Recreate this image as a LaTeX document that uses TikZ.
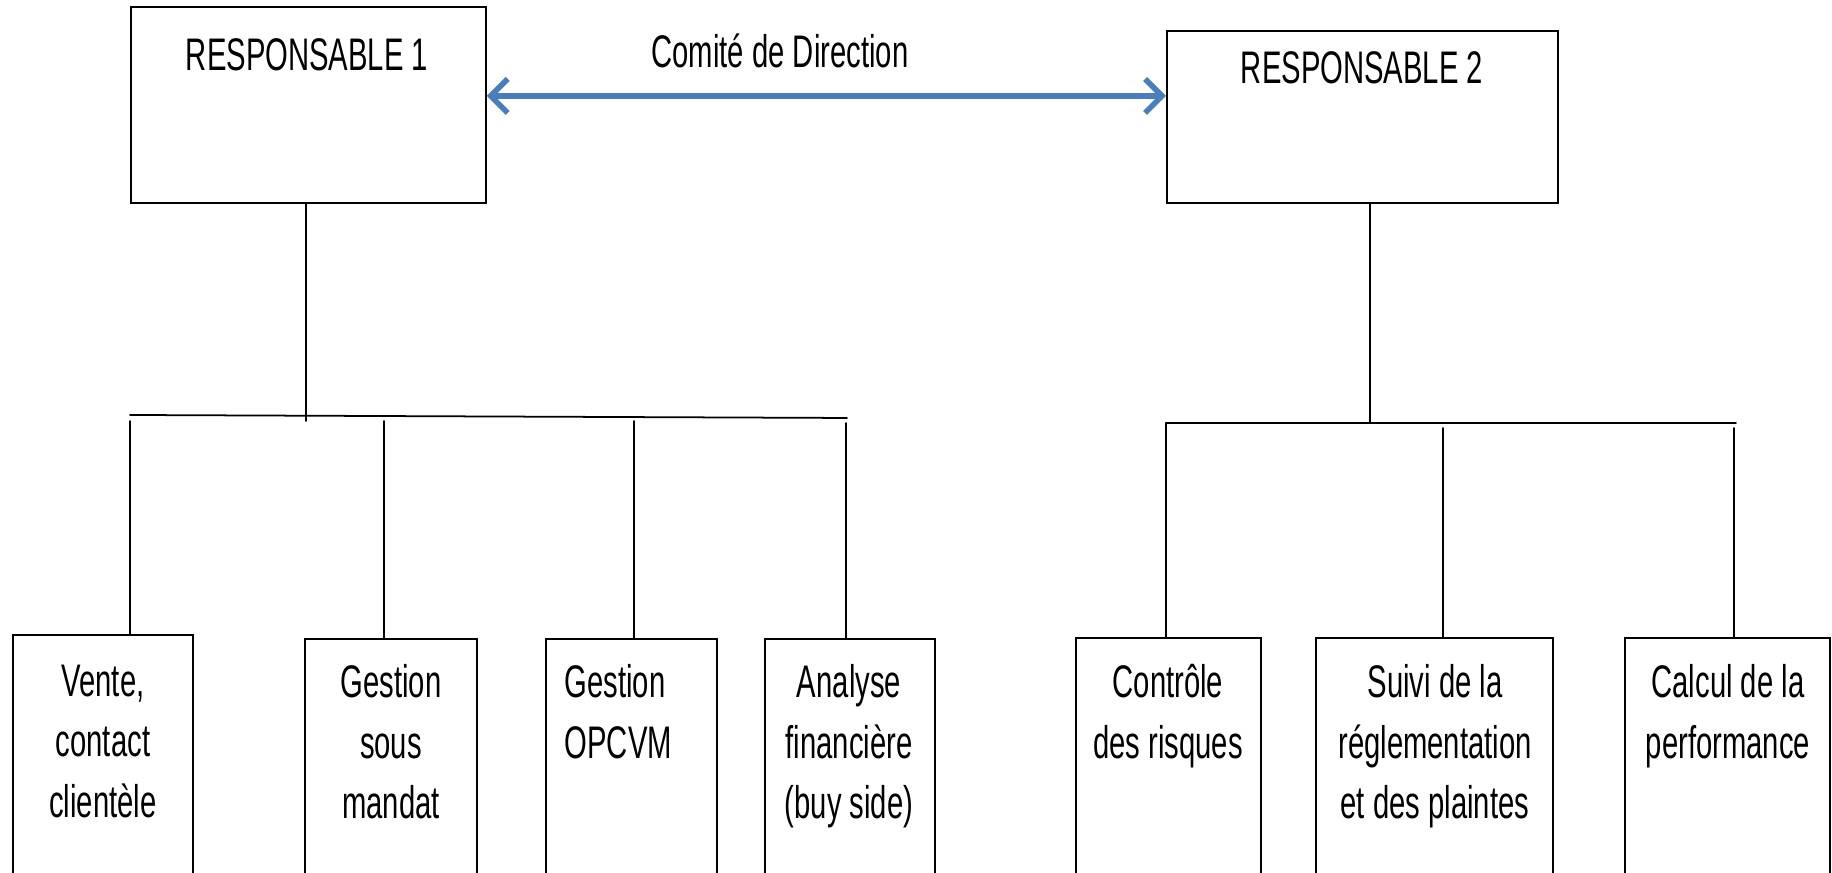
\documentclass[tikz,border=0pt]{standalone}
\usepackage{fontspec}
\setmainfont{Liberation Sans}[FakeStretch=0.64]
\usepackage{xcolor}
\usetikzlibrary{arrows.meta, calc, positioning}
\definecolor{linkblue}{HTML}{4A7EBB}

\begin{document}
\begin{tikzpicture}[line cap = round,
	box/.style={draw, line width=0.5pt, inner sep=0pt},
	leafbox/.style={box, minimum height=2.9cm, anchor=north},
	boxtext/.style={inner sep=0pt, align=center, font=\fontsize{13}{17.2}\selectfont, anchor=north},
	tree/.style={line width=0.5pt}]

	\useasboundingbox (0,0) rectangle (18.32,8.73);
	\clip (0,0) rectangle (18.32,8.73);

	% responsables
	\node[box, minimum width=3.55cm, minimum height=1.96cm, anchor=north west] (R1) at (1.30,8.67) {};
	\node[box, minimum width=3.91cm, minimum height=1.72cm, anchor=north west] (R2) at (11.66,8.43) {};
	\node[boxtext] (R1text) at (3.07,8.35) {RESPONSABLE 1};
	\node[boxtext] (R2text) at (13.62,8.22) {RESPONSABLE 2};
	\node[boxtext] (comite) at (7.80,8.40) {Comité de Direction};

	\draw[linkblue, line width=1.6pt, {Straight Barb[length=1.7mm, width=3.4mm]}-{Straight Barb[length=1.7mm, width=3.4mm]}] (R1.east |- 0,7.77) -- (R2.west |- 0,7.77);

	% services
	\node[leafbox, minimum width=1.80cm] (vente) at (1.03,2.39) {};
	\node[leafbox, minimum width=1.72cm] (mandat) at (3.91,2.35) {};
	\node[leafbox, minimum width=1.71cm] (opcvm) at (6.315,2.35) {};
	\node[leafbox, minimum width=1.70cm] (analyse) at (8.50,2.35) {};
	\node[leafbox, minimum width=1.85cm] (risques) at (11.685,2.36) {};
	\node[leafbox, minimum width=2.37cm] (reglement) at (14.345,2.36) {};
	\node[leafbox, minimum width=2.05cm] (perf) at (17.275,2.36) {};

	\node[boxtext] (ventetext) at (1.03,2.09) {Vente,\\contact\\clientèle};
	\node[boxtext] (mandattext) at (3.91,2.09) {Gestion\\sous\\mandat};
	\node[boxtext, align=left, anchor=north west] (opcvmtext) at (5.64,2.09) {Gestion\\OPCVM};
	\node[boxtext] (analysetext) at (8.49,2.09) {Analyse\\financière\\(buy side)};
	\node[boxtext] (risquestext) at (11.68,2.09) {Contrôle\\des risques};
	\node[boxtext] (reglementtext) at (14.35,2.09) {Suivi de la\\réglementation\\et des plaintes};
	\node[boxtext] (perftext) at (17.28,2.09) {Calcul de la\\performance};

	% organigramme gauche
	\coordinate (lt) at (3.06,4.52);
	\coordinate (lb1) at (1.30,4.58);
	\coordinate (lb2) at (8.47,4.55);
	\coordinate (ld1) at (1.30,4.52);
	\coordinate (ld2) at (3.84,4.52);
	\coordinate (ld3) at (6.34,4.52);
	\coordinate (ld4) at (8.46,4.50);
	\draw[tree] (lt |- R1.south) -- (lt);
	\draw[tree] (lb1) -- (lb2);
	\draw[tree] (ld1) -- (ld1 |- vente.north);
	\draw[tree] (ld2) -- (ld2 |- mandat.north);
	\draw[tree] (ld3) -- (ld3 |- opcvm.north);
	\draw[tree] (ld4) -- (ld4 |- analyse.north);

	% organigramme droite
	\coordinate (rt) at (13.70,4.50);
	\coordinate (rb1) at (11.66,4.50);
	\coordinate (rb2) at (17.36,4.50);
	\coordinate (rd2) at (14.43,4.45);
	\coordinate (rd3) at (17.34,4.45);
	\draw[tree] (rt |- R2.south) -- (rt);
	\draw[tree] (rb1) -- (rb2);
	\draw[tree] (rb1) -- (rb1 |- risques.north);
	\draw[tree] (rd2) -- (rd2 |- reglement.north);
	\draw[tree] (rd3) -- (rd3 |- perf.north);

\end{tikzpicture}
\end{document}
